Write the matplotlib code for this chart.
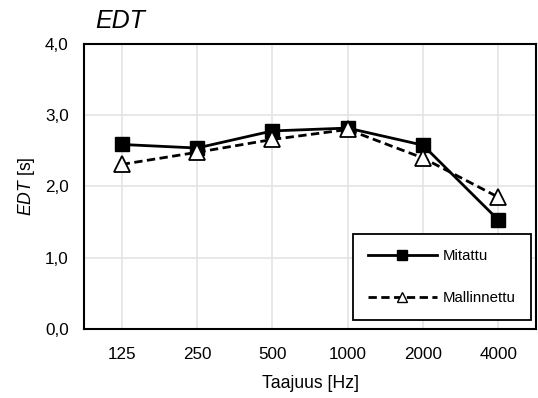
import matplotlib
matplotlib.use("Agg")
import matplotlib.pyplot as plt
from matplotlib.lines import Line2D

plt.rcParams['font.family'] = ['Liberation Sans', 'DejaVu Sans']
plt.rcParams['mathtext.fontset'] = 'custom'
plt.rcParams['mathtext.it'] = 'Liberation Sans:italic'
plt.rcParams['mathtext.rm'] = 'Liberation Sans'

frequencies = ["125", "250", "500", "1000", "2000", "4000"]
mitattu = [2.59, 2.54, 2.78, 2.82, 2.58, 1.53]
mallinnettu = [2.31, 2.48, 2.66, 2.80, 2.40, 1.85]
y_ticks = [0.0, 1.0, 2.0, 3.0, 4.0]
y_tick_labels = ["0,0", "1,0", "2,0", "3,0", "4,0"]

fig = plt.figure(figsize=(5.38, 3.98), dpi=100)
ax = fig.add_axes([84 / 538, 1 - 329 / 398, (536 - 84) / 538, (329 - 44) / 398])

x = list(range(len(frequencies)))
ax.plot(x, mitattu, color='black', lw=2.0, marker='s', markersize=9.5,
        markerfacecolor='black', markeredgecolor='black', zorder=4)
ax.plot(x, mallinnettu, color='black', lw=2.0, ls=(0, (3, 1.6)), marker='^',
        markersize=11, markerfacecolor='white', markeredgecolor='black',
        markeredgewidth=1.3, zorder=5)

ax.set_xlim(-0.5, len(frequencies) - 0.5)
ax.set_ylim(0, 4)
ax.set_xticks(x)
ax.set_xticklabels(frequencies)
ax.set_yticks(y_ticks)
ax.set_yticklabels(y_tick_labels)
ax.tick_params(length=0, labelsize=12.3)
ax.tick_params(axis='x', pad=13)
ax.tick_params(axis='y', pad=11)
ax.grid(True, color='#e4e4e4', lw=1.2, zorder=0)
ax.set_axisbelow(True)
for s in ax.spines.values():
    s.set_color('black')
    s.set_linewidth(1.5)

ax.set_xlabel("Taajuus [Hz]", fontsize=12.7, labelpad=9)
ax.set_ylabel(r"$\it{EDT}$ [s]", fontsize=12.7, labelpad=6)
ax.text(11 / 452, 1.038, "EDT", transform=ax.transAxes, fontsize=18,
        style='italic', ha='left', va='bottom')

handles = [
    Line2D([], [], color='black', lw=2.0, marker='s', markersize=6.5,
           markerfacecolor='black'),
    Line2D([], [], color='black', lw=2.0, ls=(0, (3, 1.6)), marker='^',
           markersize=6.5, markerfacecolor='white', markeredgewidth=1.0),
]
leg = ax.legend(handles, ["Mitattu", "Mallinnettu"], loc='lower right',
                bbox_to_anchor=(0.995, 0.02), fontsize=10.8, handlelength=4.6,
                labelspacing=1.9, borderpad=1.0, fancybox=False,
                framealpha=1, edgecolor='black', handletextpad=0.4,
                borderaxespad=0.2)
leg.get_frame().set_linewidth(1.3)

fig.savefig("out.png", dpi=100)
